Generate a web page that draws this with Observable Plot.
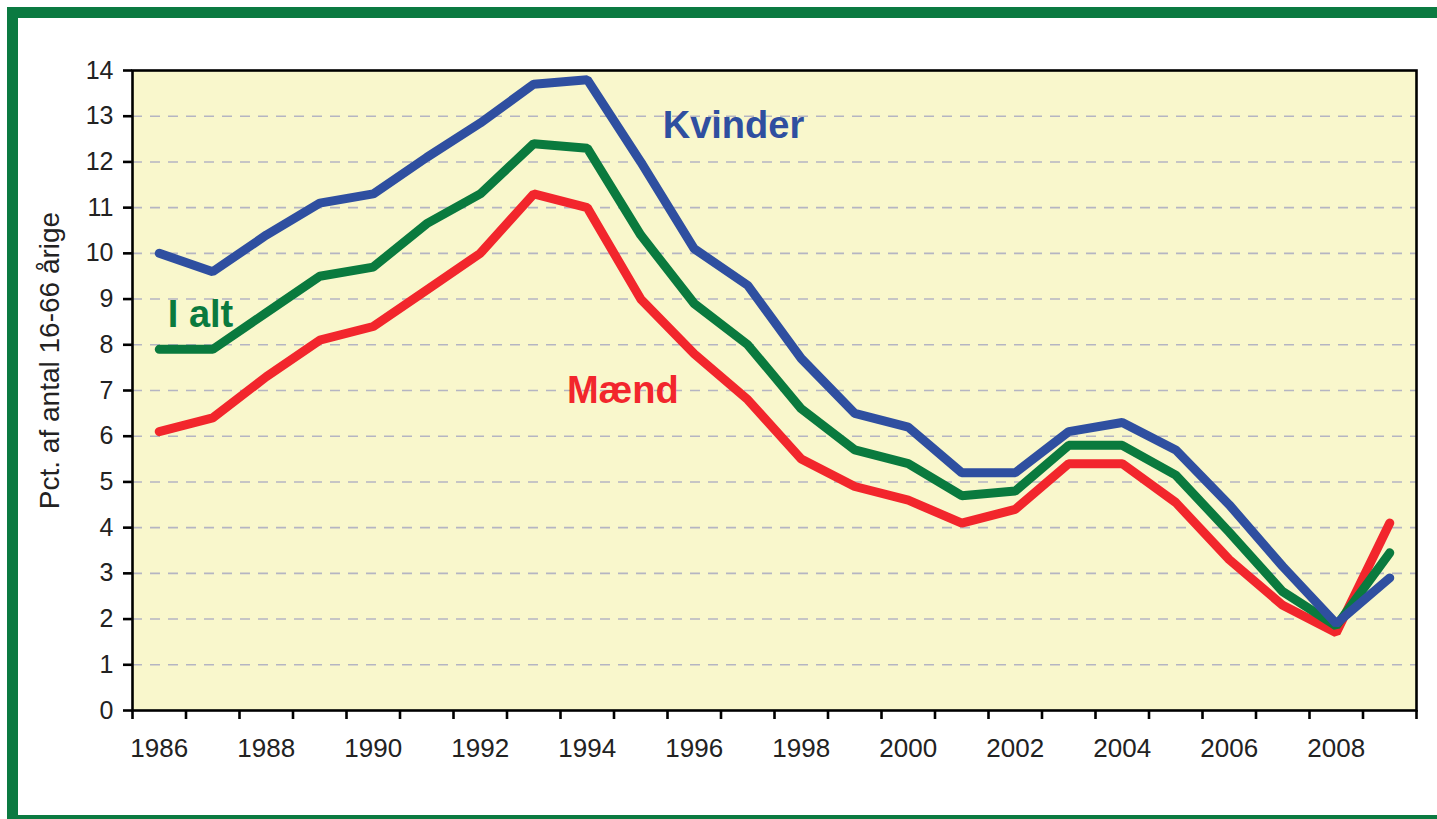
<!DOCTYPE html>
<html>
<head>
<meta charset="utf-8">
<script src="https://cdn.jsdelivr.net/npm/d3@7"></script>
<script src="https://cdn.jsdelivr.net/npm/@observablehq/plot@0.6"></script>
<style>
  html, body { margin: 0; padding: 0; background: #ffffff; overflow: hidden; }
  #wrap { position: relative; width: 1437px; height: 819px; }
  #border {
    position: absolute; left: 7px; top: 7px; width: 1440px; height: 812px;
    box-sizing: border-box; border-left: 11px solid #0b7a41; border-top: 11px solid #0b7a41;
    border-bottom: 4px solid #0b7a41; pointer-events: none;
  }
</style>
</head>
<body>
<div id="wrap"><div id="border"></div></div>
<script>
const years = d3.range(1986, 2010);
const kvinder = [10.0, 9.6, 10.4, 11.1, 11.3, 12.1, 12.85, 13.7, 13.8, 12.0, 10.1, 9.3, 7.7, 6.5, 6.2, 5.2, 5.2, 6.1, 6.3, 5.7, 4.5, 3.15, 1.9, 2.9];
const iAlt    = [7.9, 7.9, 8.7, 9.5, 9.7, 10.65, 11.3, 12.4, 12.3, 10.4, 8.9, 8.0, 6.6, 5.7, 5.4, 4.7, 4.8, 5.8, 5.8, 5.15, 3.9, 2.6, 1.85, 3.45];
const maend   = [6.1, 6.4, 7.3, 8.1, 8.4, 9.2, 10.0, 11.3, 11.0, 9.0, 7.8, 6.8, 5.5, 4.9, 4.6, 4.1, 4.4, 5.4, 5.4, 4.55, 3.3, 2.3, 1.7, 4.1];
const yTicks = d3.range(0, 15);
const xLabelYears = d3.range(1986, 2009, 2);
const seriesNames = ["Mænd", "I alt", "Kvinder"];
const seriesColors = ["#f2262c", "#0a7a3e", "#2f4fa0"];
const labelText = ["Kvinder", "I alt", "Mænd"];
const labelYear = [1995.41, 1986.16, 1993.62];
const labelValue = [12.53, 8.38, 6.72];
const labelColor = ["#2f4fa0", "#0a7a3e", "#f2262c"];
const yTitle = "Pct. af antal 16-66 årige";

const seriesValues = [maend, iAlt, kvinder];
const rows = [];
seriesNames.forEach((s, k) => years.forEach((yr, i) => rows.push({series: s, year: yr, value: seriesValues[k][i]})));
const labels = labelText.map((t, i) => ({text: t, year: labelYear[i], value: labelValue[i], color: labelColor[i]}));
const boundaries = d3.range(years[0] - 0.5, years[years.length - 1] + 1, 1);

const chart = Plot.plot({
  width: 1437,
  height: 819,
  marginLeft: 132,
  marginRight: 21,
  marginTop: 70,
  marginBottom: 109,
  style: {fontFamily: "'Liberation Sans', Arial, sans-serif", background: "transparent", color: "#222"},
  x: {type: "linear", domain: [1985.5, 2009.5]},
  y: {domain: [0, 14]},
  color: {domain: seriesNames, range: seriesColors},
  marks: [
    Plot.frame({fill: "#f9f7cc", stroke: null}),
    Plot.gridY(d3.range(1, 14), {stroke: "#b5b5c2", strokeOpacity: 1, strokeWidth: 1.6, strokeDasharray: "10,8"}),
    Plot.line(rows, {x: "year", y: "value", z: "series", stroke: "series", strokeWidth: 9, strokeLinejoin: "miter", strokeLinecap: "round"}),
    Plot.frame({stroke: "#000", strokeWidth: 2.6}),
    Plot.axisY(yTicks, {tickSize: 9, tickPadding: 10, fontSize: 25, stroke: "#000", strokeWidth: 2.6, label: null, tickFormat: d => String(d), fill: "#222"}),
    Plot.axisX(boundaries, {tickSize: 9, tickFormat: () => "", stroke: "#000", strokeWidth: 2.6, label: null}),
    Plot.axisX(xLabelYears, {tickSize: 0, tickPadding: 28, fontSize: 26, tickFormat: d => String(d), label: null, fill: "#222"}),
    Plot.text([yTitle], {frameAnchor: "left", text: d => d, rotate: -90, dx: -82, dy: -30, fontSize: 28, fill: "#222", textAnchor: "middle", lineAnchor: "middle"}),
    Plot.text(labels, {x: "year", y: "value", text: "text", fill: "color", fontSize: 38, fontWeight: "bold", textAnchor: "start", lineAnchor: "bottom"})
  ]
});
document.getElementById("wrap").prepend(chart);
</script>
</body>
</html>
